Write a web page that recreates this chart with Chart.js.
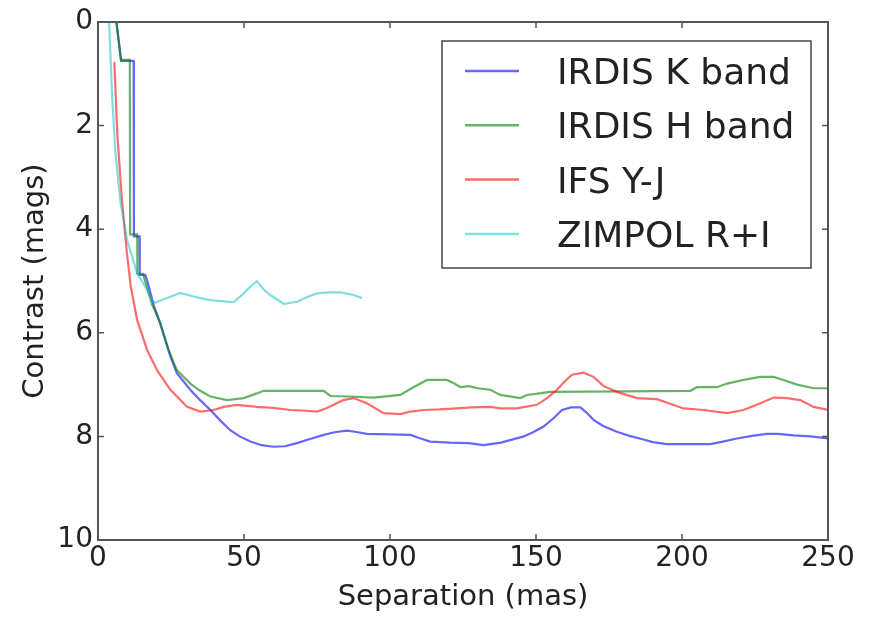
<!DOCTYPE html>
<html>
<head>
<meta charset="utf-8">
<script src="https://cdn.jsdelivr.net/npm/chart.js@4.4.1/dist/chart.umd.min.js"></script>
<style>
  html, body { margin: 0; padding: 0; background: #fff; }
  canvas { display: block; }
</style>
</head>
<body>
<canvas id="contrastChart" width="875" height="617"></canvas>
<script>
// contrast curves: separation (mas) vs contrast (mags)
const seriesNames = ['IRDIS K band', 'IRDIS H band', 'IFS Y-J', 'ZIMPOL R+I'];

const kSep = [5.7, 6.3, 7.9, 12.2, 12.3, 14.2, 14.3, 16.2, 16.8, 19, 21.3, 24.8, 27, 31.6, 35, 38.5, 42, 45.3, 48.5, 52.2, 56, 60.1, 64, 68.1, 72, 77.3, 81, 85.3, 88, 92.1, 100, 107, 110, 113.8, 120.6, 127, 132, 138, 145.8, 149, 152.6, 156, 158.9, 162, 165.2, 167.5, 169.7, 173, 177.7, 182, 186.8, 190, 194.8, 202, 209.7, 214, 218.8, 224, 229.1, 233, 238.2, 244, 250];
const kMag = [-0.3, 0, 0.75, 0.75, 4.14, 4.14, 4.88, 4.88, 4.98, 5.45, 5.82, 6.46, 6.78, 7.1, 7.3, 7.49, 7.7, 7.88, 8.0, 8.1, 8.17, 8.2, 8.19, 8.13, 8.06, 7.97, 7.92, 7.89, 7.91, 7.95, 7.96, 7.97, 8.03, 8.1, 8.12, 8.13, 8.17, 8.12, 8.0, 7.92, 7.81, 7.65, 7.49, 7.44, 7.44, 7.55, 7.68, 7.8, 7.91, 7.99, 8.06, 8.11, 8.15, 8.15, 8.15, 8.1, 8.04, 7.99, 7.95, 7.95, 7.98, 8.0, 8.04];

const hSep = [5.7, 6.3, 7.9, 10.9, 11.0, 13.4, 13.5, 15.4, 18.5, 21.3, 24, 27, 31.6, 35, 38.5, 44.2, 49.9, 54.4, 56.7, 65, 77.3, 79.6, 86, 94.4, 103.5, 108, 112.7, 119.5, 122, 124.1, 127, 130, 134.3, 137.8, 144.6, 146.9, 150, 154.8, 180, 202.9, 205.1, 212, 215.4, 221.1, 226.8, 231.4, 234.8, 239.4, 245.1, 250];
const hMag = [-0.3, 0, 0.73, 0.73, 4.1, 4.1, 4.86, 4.86, 5.45, 5.81, 6.3, 6.72, 6.98, 7.12, 7.23, 7.3, 7.26, 7.17, 7.12, 7.12, 7.12, 7.22, 7.23, 7.25, 7.2, 7.05, 6.91, 6.91, 6.98, 7.05, 7.03, 7.07, 7.1, 7.2, 7.26, 7.2, 7.18, 7.14, 7.13, 7.12, 7.05, 7.05, 6.98, 6.91, 6.85, 6.85, 6.91, 7.0, 7.07, 7.07];

const ifsSep = [5.6, 6.6, 8.2, 9.9, 11.2, 13.4, 16.8, 20.2, 24.8, 30.5, 35, 39.6, 43, 47.6, 54.4, 60, 65.8, 70, 75, 78, 80.7, 84, 87.5, 92.1, 97.8, 103.5, 107, 111.5, 117, 122.9, 128, 134.3, 137.8, 143.5, 150.3, 154, 157.2, 160, 162.3, 166.3, 169.7, 173.2, 177.7, 184.6, 191.4, 196, 200.5, 207.4, 215.4, 221.1, 226.8, 231.4, 235.9, 240.5, 245.1, 250];
const ifsMag = [0.77, 2.15, 3.44, 4.46, 5.1, 5.75, 6.33, 6.72, 7.1, 7.43, 7.52, 7.49, 7.43, 7.39, 7.43, 7.45, 7.49, 7.5, 7.52, 7.46, 7.39, 7.3, 7.26, 7.36, 7.55, 7.57, 7.52, 7.49, 7.48, 7.46, 7.44, 7.43, 7.46, 7.46, 7.39, 7.25, 7.1, 6.93, 6.81, 6.77, 6.85, 7.03, 7.14, 7.26, 7.28, 7.37, 7.46, 7.49, 7.55, 7.49, 7.36, 7.25, 7.26, 7.3, 7.43, 7.49];

const zimSep = [3.2, 3.8, 4.9, 5.9, 7.6, 9.9, 13.4, 16.8, 18.5, 19.5, 23.6, 28.2, 32.7, 35, 38.5, 42, 46.4, 49.9, 51, 54.4, 57, 59, 63.6, 68.2, 72, 75, 79, 83, 87.5, 90.4];
const zimMag = [-0.6, 0, 1.5, 2.47, 3.44, 4.2, 4.85, 5.17, 5.38, 5.42, 5.33, 5.23, 5.3, 5.33, 5.37, 5.39, 5.41, 5.24, 5.17, 5.0, 5.18, 5.27, 5.44, 5.4, 5.3, 5.24, 5.22, 5.22, 5.27, 5.33];

const sepTicks = [0, 50, 100, 150, 200, 250];
const magTicks = [0, 2, 4, 6, 8, 10];

const lineColors = ['rgba(0,0,255,0.6)', 'rgba(0,128,0,0.6)', 'rgba(255,0,0,0.58)', 'rgba(0,191,191,0.5)'];

function toPoints(xs, ys) {
    return xs.map(function(x, i) {
        return { x: x, y: ys[i] };
    });
}

const allSeries = [[kSep, kMag], [hSep, hMag], [ifsSep, ifsMag], [zimSep, zimMag]];

const datasets = allSeries.map(function(s, i) {
    return {
        label: seriesNames[i],
        data: toPoints(s[0], s[1]),
        borderColor: lineColors[i],
        backgroundColor: lineColors[i],
        borderWidth: 2.2,
        pointRadius: 0,
        tension: 0,
        fill: false,
        // later series sit on top
        order: allSeries.length - i
    };
});

const textColor = '#222';
const frameColor = '#555';

// box, inward tick marks and the legend, matplotlib style
const framePlugin = {
    id: 'frame',
    afterDatasetsDraw(chart) {
        const ctx = chart.ctx;
        const a = chart.chartArea;
        const xs = chart.scales.x;
        const ys = chart.scales.y;
        ctx.save();
        ctx.strokeStyle = frameColor;
        ctx.lineWidth = 1.5;
        const tl = 6;
        ctx.beginPath();
        xs.ticks.forEach(function(t) {
            const px = xs.getPixelForValue(t.value);
            ctx.moveTo(px, a.bottom);
            ctx.lineTo(px, a.bottom - tl);
            ctx.moveTo(px, a.top);
            ctx.lineTo(px, a.top + tl);
        });
        ys.ticks.forEach(function(t) {
            const py = ys.getPixelForValue(t.value);
            ctx.moveTo(a.left, py);
            ctx.lineTo(a.left + tl, py);
            ctx.moveTo(a.right, py);
            ctx.lineTo(a.right - tl, py);
        });
        ctx.stroke();

        ctx.lineWidth = 2;
        ctx.strokeRect(a.left, a.top, a.right - a.left, a.bottom - a.top);

        // legend
        const box = { left: 442, top: 41, right: 811, bottom: 268 };
        ctx.fillStyle = '#fff';
        ctx.fillRect(box.left, box.top, box.right - box.left, box.bottom - box.top);
        ctx.lineWidth = 1.5;
        ctx.strokeStyle = '#444';
        ctx.strokeRect(box.left, box.top, box.right - box.left, box.bottom - box.top);
        ctx.font = '36px "DejaVu Sans"';
        ctx.textBaseline = 'alphabetic';
        ctx.textAlign = 'left';
        chart.data.datasets.forEach(function(ds, i) {
            const rowY = 71 + i * 54.3;
            ctx.strokeStyle = ds.borderColor;
            ctx.lineWidth = 2.5;
            ctx.beginPath();
            ctx.moveTo(465, rowY);
            ctx.lineTo(519, rowY);
            ctx.stroke();
            ctx.fillStyle = textColor;
            ctx.fillText(ds.label, 557, rowY + 13);
        });
        ctx.restore();
    }
};

const config = {
    type: 'line',
    data: { datasets: datasets },
    options: {
        responsive: false,
        animation: false,
        devicePixelRatio: 1,
        layout: {
            padding: { left: 0, right: 47, top: 22, bottom: 0 }
        },
        plugins: {
            legend: { display: false },
            tooltip: { enabled: false },
            title: { display: false }
        },
        scales: {
            x: {
                type: 'linear',
                min: 0,
                max: 250,
                afterFit: function(scale) { scale.height = 77; },
                afterBuildTicks: function(scale) {
                    scale.ticks = sepTicks.map(function(v) { return { value: v }; });
                },
                ticks: {
                    color: textColor,
                    font: { family: 'DejaVu Sans', size: 28 },
                    padding: 2,
                    maxRotation: 0
                },
                grid: { display: false, drawTicks: false },
                border: { display: false },
                title: {
                    display: true,
                    text: 'Separation (mas)',
                    color: textColor,
                    font: { family: 'DejaVu Sans', size: 29 },
                    padding: { top: 0, bottom: 2 }
                }
            },
            y: {
                type: 'linear',
                min: 0,
                max: 10,
                reverse: true,
                afterFit: function(scale) { scale.width = 98; },
                afterBuildTicks: function(scale) {
                    scale.ticks = magTicks.map(function(v) { return { value: v }; });
                },
                ticks: {
                    color: textColor,
                    font: { family: 'DejaVu Sans', size: 28 },
                    padding: 5
                },
                grid: { display: false, drawTicks: false },
                border: { display: false },
                title: {
                    display: true,
                    text: 'Contrast (mags)',
                    color: textColor,
                    font: { family: 'DejaVu Sans', size: 29 },
                    padding: { top: 18, bottom: 0 }
                }
            }
        }
    },
    plugins: [framePlugin]
};

const myChart = new Chart(document.getElementById('contrastChart'), config);
</script>
</body>
</html>
